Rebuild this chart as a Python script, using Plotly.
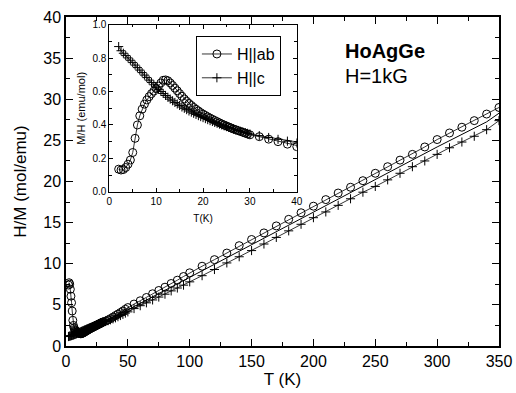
import plotly.graph_objects as go

# ---------------- data ----------------
# dense low-temperature region (K), M/H in emu/mol
T_low = [2.0, 2.5, 3.0, 3.5, 4.0, 4.5, 5.0, 5.5, 6.0, 6.5, 7.0, 7.5, 8.0, 8.5, 9.0, 9.5,
         10.0, 10.5, 11.0, 11.5, 12.0, 12.5, 13.0, 13.5, 14.0, 14.5, 15.0, 15.5, 16.0, 16.5,
         17.0, 17.5, 18.0, 18.5, 19.0, 19.5, 20.0, 20.5, 21.0, 21.5, 22.0, 22.5, 23.0, 23.5,
         24.0, 24.5, 25.0, 25.5, 26.0, 26.5, 27.0, 27.5, 28.0, 28.5, 29.0, 29.5, 30.0]
MH_ab_low = [0.135, 0.130, 0.133, 0.145, 0.165, 0.190, 0.235, 0.320, 0.400, 0.455, 0.495, 0.525,
             0.550, 0.570, 0.588, 0.603, 0.618, 0.633, 0.652, 0.668, 0.670, 0.665, 0.652, 0.637,
             0.621, 0.605, 0.588, 0.572, 0.556, 0.542, 0.529, 0.517, 0.505, 0.494, 0.484, 0.474,
             0.465, 0.457, 0.449, 0.441, 0.434, 0.427, 0.420, 0.413, 0.406, 0.400, 0.394, 0.388,
             0.382, 0.376, 0.371, 0.366, 0.361, 0.356, 0.351, 0.346, 0.341]
MH_c_low = [0.870, 0.845, 0.830, 0.816, 0.802, 0.788, 0.774, 0.759, 0.744, 0.729, 0.714, 0.699,
            0.684, 0.669, 0.655, 0.641, 0.627, 0.614, 0.601, 0.589, 0.577, 0.566, 0.555, 0.545,
            0.535, 0.526, 0.517, 0.508, 0.500, 0.492, 0.484, 0.477, 0.470, 0.463, 0.456, 0.450,
            0.444, 0.438, 0.432, 0.426, 0.421, 0.415, 0.410, 0.405, 0.400, 0.395, 0.390, 0.385,
            0.380, 0.376, 0.371, 0.367, 0.362, 0.358, 0.354, 0.350, 0.346]

# intermediate region, M/H in emu/mol
T_mid = [32, 34, 36, 38, 40, 42, 44, 46, 48, 50]
MH_ab_mid = [0.330, 0.315, 0.300, 0.285, 0.270, 0.258, 0.246, 0.235, 0.224, 0.214]
MH_c_mid = [0.336, 0.325, 0.314, 0.303, 0.292, 0.281, 0.270, 0.260, 0.250, 0.241]

# high-temperature region, H/M in mol/emu
T_hi = [55, 60, 65, 70, 75, 80, 85, 90, 95, 100, 110, 120, 130, 140, 150, 160, 170, 180,
        190, 200, 210, 220, 230, 240, 250, 260, 270, 280, 290, 300, 310, 320, 330, 340, 350]
HM_ab_hi = [5.1, 5.5, 5.9, 6.35, 6.75, 7.15, 7.6, 8.0, 8.45, 8.9, 9.7, 10.5, 11.3, 12.2, 12.95,
            13.75, 14.6, 15.4, 16.2, 17.0, 17.8, 18.6, 19.3, 20.1, 21.0, 21.8, 22.6, 23.3, 24.2,
            25.1, 25.9, 26.6, 27.4, 28.2, 29.0]
HM_c_hi = [4.55, 4.9, 5.25, 5.6, 5.95, 6.3, 6.7, 7.05, 7.4, 7.8, 8.55, 9.3, 10.1, 10.85, 11.6,
           12.4, 13.2, 14.0, 14.8, 15.6, 16.3, 17.1, 17.9, 18.7, 19.4, 20.2, 21.0, 21.8, 22.5,
           23.3, 24.1, 24.8, 25.5, 26.3, 27.4]

# solid guide line (H/M)
T_fit = [30, 50, 100, 150, 200, 250, 300, 340, 350]
HM_fit = [2.9, 4.4, 8.35, 12.3, 16.3, 20.2, 24.2, 27.25, 28.3]

# ---------------- derived (reciprocals) ----------------
T_dense = T_low + T_mid
MH_ab = MH_ab_low + MH_ab_mid
MH_c = MH_c_low + MH_c_mid
T_all = T_dense + T_hi
HM_ab_all = [1.0 / v for v in MH_ab] + HM_ab_hi
HM_c_all = [1.0 / v for v in MH_c] + HM_c_hi
MH_ab_all = MH_ab + [1.0 / v for v in HM_ab_hi]
MH_c_all = MH_c + [1.0 / v for v in HM_c_hi]

FONT = "Liberation Sans, Arial, sans-serif"
BLK = "black"

circ = dict(symbol="circle-open", size=8, color=BLK, line=dict(width=1, color=BLK))
plus = dict(symbol="cross-thin-open", size=6.5, color=BLK, line=dict(width=1, color=BLK))

fig = go.Figure()

# main plot
fig.add_trace(go.Scatter(x=T_fit, y=HM_fit, mode="lines", line=dict(color=BLK, width=1),
                         showlegend=False, xaxis="x", yaxis="y"))
fig.add_trace(go.Scatter(x=T_all, y=HM_ab_all, mode="lines+markers", marker=circ,
                         line=dict(color=BLK, width=0.8), showlegend=False, xaxis="x", yaxis="y"))
fig.add_trace(go.Scatter(x=T_all, y=HM_c_all, mode="lines+markers", marker=plus,
                         line=dict(color=BLK, width=0.8), showlegend=False, xaxis="x", yaxis="y"))

# inset
fig.add_trace(go.Scatter(x=T_all, y=MH_ab_all, mode="lines+markers", marker=circ,
                         line=dict(color=BLK, width=0.8), name="H||ab", xaxis="x2", yaxis="y2"))
fig.add_trace(go.Scatter(x=T_all, y=MH_c_all, mode="lines+markers", marker=plus,
                         line=dict(color=BLK, width=0.8), name="H||c", xaxis="x2", yaxis="y2"))

main_ax = dict(showline=True, linecolor=BLK, linewidth=1.5, mirror="allticks",
               ticks="inside", ticklen=7, tickwidth=1.3, tickcolor=BLK,
               showgrid=False, zeroline=False, automargin=False,
               tickfont=dict(family=FONT, size=16, color=BLK))
inset_ax = dict(showline=True, linecolor=BLK, linewidth=1, mirror="allticks",
                ticks="inside", ticklen=4, tickwidth=1, tickcolor=BLK,
                showgrid=False, zeroline=False, automargin=False,
                tickfont=dict(family=FONT, size=10, color=BLK))

fig.update_layout(
    width=516, height=393,
    margin=dict(l=66, r=17, t=17, b=47),
    paper_bgcolor="white", plot_bgcolor="white",
    font=dict(family=FONT, color=BLK),
    xaxis=dict(main_ax, range=[0, 350], dtick=50, tick0=0,
               minor=dict(ticks="inside", ticklen=4, dtick=25, tickwidth=1.2, tickcolor=BLK),
               title=dict(text="T (K)", font=dict(family=FONT, size=17, color=BLK), standoff=2)),
    yaxis=dict(main_ax, range=[0, 40], dtick=5, tick0=0,
               minor=dict(ticks="inside", ticklen=4, dtick=2.5, tickwidth=1.2, tickcolor=BLK),
               title=dict(text="H/M (mol/emu)", font=dict(family=FONT, size=17, color=BLK), standoff=12)),
    xaxis2=dict(inset_ax, domain=[0.100, 0.533], anchor="y2", range=[0, 40], dtick=10, tick0=0,
                minor=dict(ticks="inside", ticklen=2.5, dtick=5, tickcolor=BLK),
                title=dict(text="T(K)", font=dict(family=FONT, size=10, color=BLK), standoff=9)),
    yaxis2=dict(inset_ax, domain=[0.469, 0.976], anchor="x2", range=[0, 1.0], dtick=0.2, tick0=0,
                tickformat=".1f",
                minor=dict(ticks="inside", ticklen=2.5, dtick=0.1, tickcolor=BLK),
                title=dict(text="M/H (emu/mol)", font=dict(family=FONT, size=11, color=BLK), standoff=4)),
    legend=dict(x=0.300, y=0.942, xanchor="left", yanchor="top",
                bgcolor="white", bordercolor=BLK, borderwidth=1,
                font=dict(family=FONT, size=16, color=BLK),
                itemwidth=30, tracegroupgap=0),
    shapes=[dict(type="rect", xref="x2 domain", yref="y2 domain", x0=0, x1=1, y0=0, y1=1,
                 fillcolor="white", line=dict(width=0), layer="below")],
    annotations=[
        dict(text="<b>HoAgGe</b>", xref="paper", yref="paper", x=0.640, y=0.897,
             xanchor="left", yanchor="middle", showarrow=False,
             font=dict(family=FONT, size=20, color=BLK)),
        dict(text="H=1kG", xref="paper", yref="paper", x=0.640, y=0.821,
             xanchor="left", yanchor="middle", showarrow=False,
             font=dict(family=FONT, size=20, color=BLK)),
    ],
)

fig.write_html("out.html")
